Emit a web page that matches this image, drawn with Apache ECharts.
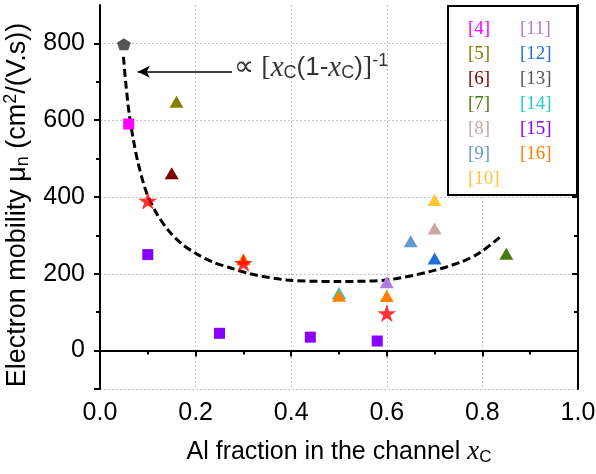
<!DOCTYPE html>
<html><head><meta charset="utf-8">
<script src="https://cdn.jsdelivr.net/npm/echarts@6/dist/echarts.min.js"></script>
<style>html,body{margin:0;padding:0;background:#fff}#c{width:596px;height:474px}</style>
</head><body><div id="c"></div>
<script>
// ---- data ----
const yLabelValues = [0, 200, 400, 600, 800];
const yMinorValues = [100, 300, 500, 700];
const ref4  = [[0.06, 590]];
const ref5  = [[0.16, 648]];
const ref6  = [[0.15, 462]];
const ref7  = [[0.85, 252]];
const ref8  = [[0.70, 318]];
const ref9  = [[0.65, 285]];
const ref10 = [[0.70, 392]];
const ref11 = [[0.60, 178]];
const ref12 = [[0.70, 240]];
const ref13 = [[0.05, 798]];
const ref14 = [[0.50, 150]];
const ref15 = [[0.10, 250], [0.25, 45], [0.44, 35], [0.58, 25]];
const ref16 = [[0.30, 238], [0.50, 143], [0.60, 142]];
const thisWork = [[0.10, 390], [0.30, 228], [0.60, 97]];
const fitCurve = [[0.049,765],[0.054,696],[0.061,617],[0.070,548],[0.080,487],[0.098,409],[0.119,356],[0.143,313],[0.171,278],[0.202,252],[0.237,230],[0.269,217],[0.314,200],[0.391,184],[0.496,180],[0.600,184],[0.684,204],[0.754,230],[0.796,256],[0.841,300]];
const arrowFrom = [0.276, 726];
const arrowTo = [0.079, 726];
const annotAnchor = [[0.281, 736]];

// ---- styles ----
const SQ = 'rect', TRI = 'triangle';
const PENT = 'path://M0,-1L0.951,-0.309L0.588,0.809L-0.588,0.809L-0.951,-0.309Z';
const STAR = 'path://M0,-1L0.2245,-0.309L0.951,-0.309L0.363,0.118L0.588,0.809L0,0.382L-0.588,0.809L-0.363,0.118L-0.951,-0.309L-0.2245,-0.309Z';
const refSeries = [
  ['[4]', ref4, '#FF00FF', SQ],
  ['[5]', ref5, '#808000', TRI],
  ['[6]', ref6, '#800000', TRI],
  ['[7]', ref7, '#4B7A0C', TRI],
  ['[8]', ref8, '#C9A7A4', TRI],
  ['[9]', ref9, '#6699CC', TRI],
  ['[10]', ref10, '#FFC533', TRI],
  ['[11]', ref11, '#B07CDC', TRI],
  ['[12]', ref12, '#1F6FDB', TRI],
  ['[13]', ref13, '#555555', PENT],
  ['[14]', ref14, '#22CCCC', TRI],
  ['[15]', ref15, '#8800FF', SQ],
  ['[16]', ref16, '#FF8000', TRI]
];
const sizeOf = s => s === SQ ? 11 : [14, 12];

const series = refSeries.map(([name, data, color, sym]) => ({
  name, type: 'scatter', data, symbol: sym, symbolSize: sizeOf(sym),
  itemStyle: {color, opacity: 1}, z: 3
}));
series.push({
  name: 'This work', type: 'scatter', data: thisWork, symbol: STAR, symbolSize: [19, 18],
  itemStyle: {color: '#FF0000'}, z: 4
});
series.push({
  name: 'fit', type: 'line', data: fitCurve, smooth: 0.3, symbol: 'none',
  lineStyle: {color: '#000', width: 3, type: [8, 4]}, z: 2,
  markLine: {
    silent: true, symbol: ['none', 'arrow'], symbolSize: [9, 12], animation: false,
    lineStyle: {type: 'solid', color: '#000', width: 1.5}, label: {show: false},
    data: [[{coord: arrowFrom}, {coord: arrowTo}]]
  }
});
series.push({
  name: 'annot', type: 'scatter', data: annotAnchor, symbolSize: 0, silent: true,
  label: {
    show: true, position: 'right', distance: 0, color: '#000',
    formatter: '{a|∝ [}{x|x}{s|C}{b|(1-}{x|x}{s|C}{b|)}{a|]}{p|-1}',
    rich: {
      a: {fontFamily: 'Liberation Serif', fontSize: 28, color: '#000'},
      b: {fontFamily: 'Liberation Sans', fontSize: 26, color: '#000'},
      x: {fontFamily: 'Liberation Serif', fontStyle: 'italic', fontSize: 29, color: '#000'},
      s: {fontFamily: 'Liberation Sans', fontSize: 18, color: '#000', padding: [11, 0, 0, 0]},
      p: {fontFamily: 'Liberation Sans', fontSize: 18, color: '#000', padding: [0, 0, 13, 0]}
    }
  }
});

const axisLineStyle = {show: true, lineStyle: {color: '#000', width: 2}};
const gridLine = {show: true, lineStyle: {color: '#c4c4c4', width: 1, type: [2, 2]}};
const tickLabel = {color: '#000', fontFamily: 'Liberation Sans', fontSize: 25};

const option = {
  animation: false,
  backgroundColor: '#fff',
  grid: {left: 100, right: 18, top: 5, bottom: 85, containLabel: false, outerBoundsMode: 'none'},
  legend: {
    data: refSeries.map(([name, , color]) => ({name, textStyle: {color}})),
    orient: 'vertical', left: 448, top: 6, height: 174,
    padding: [13, 15, 6, 15], itemWidth: 0, itemHeight: 0, itemGap: 5,
    borderColor: '#000', borderWidth: 2, backgroundColor: '#fff', selectedMode: false,
    textStyle: {fontFamily: 'Liberation Serif', fontSize: 19, lineHeight: 20, width: 42}
  },
  xAxis: [{
    type: 'value', position: 'bottom', min: 0, max: 1, interval: 0.2,
    axisLine: axisLineStyle,
    axisTick: {show: true, inside: false, length: 6, lineStyle: {color: '#000', width: 2}},
    minorTick: {show: true, splitNumber: 2, length: 4, lineStyle: {color: '#000', width: 2}},
    axisLabel: Object.assign({margin: 12, formatter: v => v.toFixed(1)}, tickLabel),
    splitLine: gridLine,
    name: '{n|Al fraction in the channel }{x|x}{s|C}', nameLocation: 'middle', nameGap: 49,
    nameTextStyle: {rich: {
      n: {fontFamily: 'Liberation Sans', fontSize: 25, color: '#000'},
      x: {fontFamily: 'Liberation Serif', fontStyle: 'italic', fontSize: 27, color: '#000'},
      s: {fontFamily: 'Liberation Sans', fontSize: 17, color: '#000', padding: [11, 0, 0, 0]}
    }}
  }, {
    type: 'value', position: 'top', min: 0, max: 1, interval: 0.2,
    axisLine: axisLineStyle,
    axisTick: {show: true, inside: true, length: 6, lineStyle: {color: '#000', width: 2}},
    minorTick: {show: true, splitNumber: 2, length: 4, lineStyle: {color: '#000', width: 2}},
    axisLabel: {show: false}, splitLine: {show: false}
  }],
  yAxis: [{
    type: 'value', position: 'left', min: -100, max: 900,
    axisLine: axisLineStyle,
    axisTick: {show: true, inside: false, length: 6, customValues: [-100].concat(yLabelValues), lineStyle: {color: '#000', width: 2}},
    axisLabel: Object.assign({margin: 15, customValues: yLabelValues}, tickLabel),
    splitLine: gridLine,
    name: '{n|Electron mobility μ}{s|n}{n| (cm}{p|2}{n|/(V.s))}', nameLocation: 'middle', nameGap: 66, nameRotate: 90,
    nameTextStyle: {padding: [0, 16, 0, 0], rich: {
      n: {fontFamily: 'Liberation Sans', fontSize: 27, color: '#000'},
      s: {fontFamily: 'Liberation Sans', fontSize: 18, color: '#000', padding: [11, 0, 0, 0]},
      p: {fontFamily: 'Liberation Sans', fontSize: 18, color: '#000', padding: [0, 0, 13, 0]}
    }}
  }, {
    type: 'value', position: 'left', min: -100, max: 900,
    axisLine: {show: false},
    axisTick: {show: true, inside: false, length: 4, customValues: yMinorValues, lineStyle: {color: '#000', width: 2}},
    axisLabel: {show: false}, splitLine: {show: false}
  }, {
    type: 'value', position: 'right', min: -100, max: 900,
    axisLine: axisLineStyle,
    axisTick: {show: true, inside: true, length: 6, customValues: yLabelValues, lineStyle: {color: '#000', width: 2}},
    axisLabel: {show: false}, splitLine: {show: false}
  }, {
    type: 'value', position: 'right', min: -100, max: 900,
    axisLine: {show: false},
    axisTick: {show: true, inside: true, length: 4, customValues: yMinorValues, lineStyle: {color: '#000', width: 2}},
    axisLabel: {show: false}, splitLine: {show: false}
  }],
  series
};
const chart = echarts.init(document.getElementById('c'), null, {renderer: 'canvas'});
chart.setOption(option);
</script>
</body></html>
